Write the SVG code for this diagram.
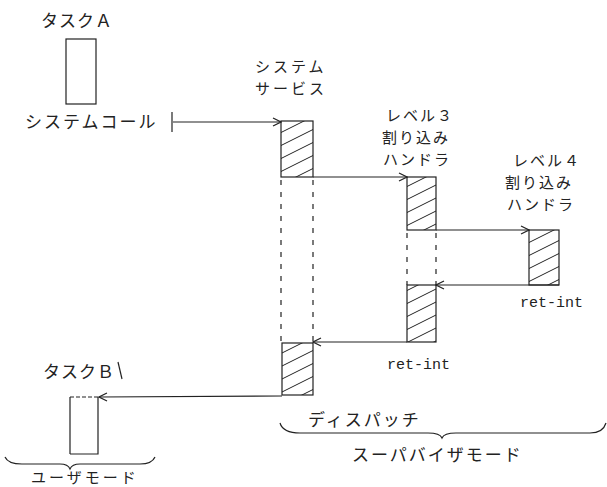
<svg xmlns="http://www.w3.org/2000/svg" width="607" height="487" viewBox="0 0 607 487">
<defs>
  <pattern id="hatch" patternUnits="userSpaceOnUse" width="26" height="13">
    <path d="M-26,13 L26,-13 M0,13 L26,0 M0,26 L52,0" stroke="#222" stroke-width="1" fill="none"/>
  </pattern>
  <marker id="arr" viewBox="0 0 10 10" refX="9" refY="5" markerWidth="10" markerHeight="10" markerUnits="userSpaceOnUse" orient="auto">
    <path d="M1,1 L9,5 L1,9" fill="none" stroke="#222" stroke-width="1.2"/>
  </marker>
  <style>
    .t{font-family:"Noto Sans CJK JP","Noto Sans",sans-serif;font-size:17px;fill:#222;}
    .s{font-family:"Noto Sans CJK JP","Noto Sans",sans-serif;font-size:15px;fill:#222;}
    .m{font-family:"Liberation Mono","DejaVu Sans Mono",monospace;font-size:15px;fill:#222;}
    .box{fill:#fff;stroke:#222;stroke-width:1.2;}
    .hbox{fill:url(#hatch);stroke:#222;stroke-width:1.2;}
    .c{stroke:#222;stroke-width:1.2;fill:none;}
    .d{stroke:#222;stroke-width:1.2;fill:none;stroke-dasharray:5 7;}
  </style>
</defs>
<rect width="607" height="487" fill="#fff"/>

<g id="taskA">
  <rect class="box" x="66" y="39" width="30" height="65"/>
  <text class="t" x="41" y="27" letter-spacing="1">タスクＡ</text>
  <text class="t" x="25" y="128" letter-spacing="2">システムコール</text>
</g>

<g id="sysService">
  <text class="s" x="255" y="72" letter-spacing="3">システム</text>
  <text class="s" x="255" y="94" letter-spacing="3">サービス</text>
  <rect class="hbox" x="281" y="121" width="32" height="56"/>
  <rect class="hbox" x="282" y="343" width="31" height="52"/>
</g>

<g id="level3">
  <text class="s" x="386" y="121" letter-spacing="2">レベル３</text>
  <text class="s" x="382" y="143" letter-spacing="2">割り込み</text>
  <text class="s" x="383" y="165" letter-spacing="2">ハンドラ</text>
  <rect class="hbox" x="407" y="177" width="29" height="53"/>
  <rect class="hbox" x="407" y="285" width="29" height="57"/>
  <text class="m" x="387" y="369">ret-int</text>
</g>

<g id="level4">
  <text class="s" x="513" y="166" letter-spacing="2">レベル４</text>
  <text class="s" x="505" y="188" letter-spacing="2">割り込み</text>
  <text class="s" x="507" y="210" letter-spacing="2">ハンドラ</text>
  <rect class="hbox" x="529" y="230" width="30" height="55"/>
  <text class="m" x="520" y="307">ret-int</text>
</g>

<g id="taskB">
  <text class="t" x="43" y="378" letter-spacing="1">タスクＢ</text>
  <path d="M70,454 L70,397 M98,397 L98,454 L70,454" class="c"/>
  <path d="M70,397 L98,397" class="c" stroke-dasharray="4 2"/>
</g>

<g id="modes">
  <path class="c" d="M5,457 Q8,464 22,464 L60,464 Q68,464 70,469 Q72,464 80,464 L140,464 Q152,464 155,457"/>
  <text class="s" x="31" y="483" font-size="14" letter-spacing="3">ユーザモード</text>
  <text class="t" x="308" y="426" letter-spacing="2">ディスパッチ</text>
  <path class="c" d="M280,423 Q283,433 300,433 L428,433 Q440,433 442,438 Q444,433 456,433 L590,433 Q603,433 606,423"/>
  <text class="t" x="352" y="461" letter-spacing="2">スーパバイザモード</text>
</g>

<g id="connectors">
  <line class="c" x1="172" y1="112" x2="172" y2="132"/>
  <line class="c" x1="173" y1="122" x2="281" y2="122" marker-end="url(#arr)"/>
  <line class="c" x1="313" y1="177" x2="407" y2="177" marker-end="url(#arr)"/>
  <line class="c" x1="436" y1="230" x2="529" y2="230" marker-end="url(#arr)"/>
  <line class="c" x1="559" y1="285" x2="436" y2="285" marker-end="url(#arr)"/>
  <line class="c" x1="407" y1="342" x2="313" y2="342" marker-end="url(#arr)"/>
  <line class="c" x1="282" y1="396" x2="99" y2="397" stroke="#555" marker-end="url(#arr)"/>
  <line class="c" x1="118" y1="362" x2="122" y2="379"/>
  <line class="d" x1="281" y1="180" x2="281" y2="343"/>
  <line class="d" x1="313" y1="180" x2="313" y2="343"/>
  <line class="d" x1="407" y1="233" x2="407" y2="285"/>
  <line class="d" x1="436" y1="233" x2="436" y2="285"/>
</g>
</svg>
